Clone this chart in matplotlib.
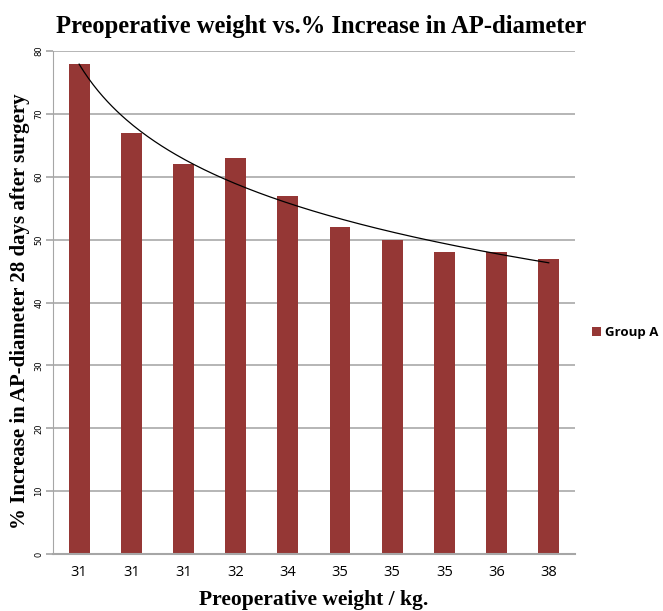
import numpy as np
import matplotlib
matplotlib.use("Agg")
import matplotlib.pyplot as plt

# preoperative weight (kg) per patient, and % increase in AP-diameter
weights = ["31", "31", "31", "32", "34", "35", "35", "35", "36", "38"]
increase = [78, 67, 62, 63, 57, 52, 50, 48, 48, 47]
series_name = "Group A"

fig = plt.figure(figsize=(6.63, 6.11), dpi=100)
ax = fig.add_axes([0.080, 0.0933, 0.787, 0.823])

x = np.arange(len(weights))
ax.bar(x, increase, width=0.40, color="#953735", label=series_name, zorder=2)

# logarithmic trendline (Excel-style) fitted to the bar values
pos = x + 1
a, b = np.polyfit(np.log(pos), increase, 1)
xs = np.linspace(1, len(weights), 200)
ax.plot(xs - 1, a * np.log(xs) + b, color="black", lw=0.9, zorder=3)

ax.set_xlim(-0.5, len(weights) - 0.5)
ax.set_ylim(0, 80)
ax.set_yticks(range(0, 81, 10))
ax.set_xticks(x)
ax.set_xticklabels(weights, fontsize=10.5, family="Open Sans")
for lab in ax.get_yticklabels():
    lab.set_rotation(90)
    lab.set_fontsize(6)
    lab.set_verticalalignment("center")
ax.tick_params(axis="x", length=0, pad=8)
ax.tick_params(axis="y", length=5, color="#a6a6a6", width=1.2, pad=2)
ax.grid(axis="y", color="#b0b0b0", lw=1.3, zorder=0)
for s in ["top", "right"]:
    ax.spines[s].set_visible(False)
ax.spines["left"].set_color("#a6a6a6")
ax.spines["bottom"].set_color("#a6a6a6")
ax.spines["bottom"].set_linewidth(1.5)

serif = "Liberation Serif"
fig.text(0.484, 0.956, "Preoperative weight vs.% Increase in AP-diameter",
         ha="center", va="center", fontsize=17.7, fontweight="bold", family=serif)
ax.set_xlabel("Preoperative weight / kg.", fontsize=15.5, fontweight="bold",
              family=serif, va="center")
ax.xaxis.set_label_coords(0.5, -0.091)
ax.set_ylabel("% Increase in AP-diameter 28 days after surgery", fontsize=15,
              fontweight="bold", family=serif, va="center")
ax.yaxis.set_label_coords(-0.063, 0.483)

fig.legend(loc="center left", bbox_to_anchor=(0.893, 0.455), frameon=False,
           handlelength=0.7, handleheight=0.7, handletextpad=0.3,
           borderpad=0, borderaxespad=0,
           prop={"weight": "bold", "size": 9.5, "family": "Open Sans"})

fig.savefig("out.png", dpi=100)
